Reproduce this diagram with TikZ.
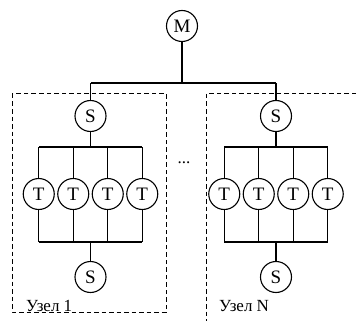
\documentclass[tikz,border=0pt]{standalone}
\usepackage{fontspec}
\setmainfont{Liberation Serif}
\begin{document}
\begin{tikzpicture}[x=1pt,y=-1pt,
  unit/.style={circle,draw,line width=1.1pt,minimum size=31pt,inner sep=0pt,font=\fontsize{19}{22}\selectfont},
  wire/.style={line width=1.1pt},
  nodebox/.style={draw,line width=1pt,dash pattern=on 4.5pt off 3pt},
  lbl/.style={anchor=base west,inner sep=0pt,font=\fontsize{17}{20}\selectfont}]
\clip (0,0) rectangle (359,321);
\fill[white] (0,0) rectangle (359,321);
% node boxes
\draw[nodebox] (12,94) rectangle (166,312);
\draw[nodebox] (206,94) rectangle (380,340);
% master
\node[unit] (M) at (182,26) {M};
\coordinate (b1) at (90.5,83);
\coordinate (b2) at (276,83);
\draw[wire] (b1) -- (b2);
\draw[wire] (M) -- (M |- b1);
% groups
\foreach \g/\cx in {1/90.5,2/276}{
  \node[unit] (Sa\g) at (\cx,116) {S};
  \node[unit] (Sb\g) at (\cx,277) {S};
  \foreach \i in {1,...,4}{
    \node[unit] (T\g\i) at ({\cx+(\i-2.5)*34.5},194) {T};
  }
  \coordinate (ua\g) at ({\cx-51.75},147);
  \coordinate (ub\g) at ({\cx+51.75},147);
  \coordinate (la\g) at ({\cx-51.75},242);
  \coordinate (lb\g) at ({\cx+51.75},242);
  \draw[wire] (Sa\g) -- (b\g);
  \draw[wire] (ua\g) -- (ub\g);
  \draw[wire] (la\g) -- (lb\g);
  \draw[wire] (Sa\g) -- (Sa\g |- ua\g);
  \draw[wire] (Sb\g) -- (Sb\g |- la\g);
  \foreach \i in {1,...,4}{
    \draw[wire] (T\g\i) -- (T\g\i |- ua\g);
    \draw[wire] (T\g\i) -- (T\g\i |- la\g);
  }
}
\node[lbl] (L1) at (26,311) {Узел 1};
\node[lbl] (L2) at (219,311) {Узел N};
\node[inner sep=0pt,font=\fontsize{17}{20}\selectfont] (dots) at (184,163) {...};
\end{tikzpicture}
\end{document}
